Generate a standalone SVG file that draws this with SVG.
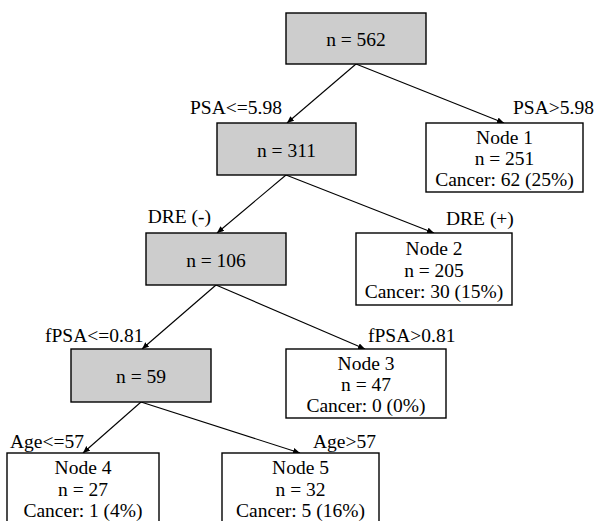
<svg xmlns="http://www.w3.org/2000/svg" width="594" height="521" viewBox="0 0 594 521">
<style>
text{font-family:'Liberation Serif','DejaVu Serif',serif;font-size:19.5px;fill:#000}
.c{text-anchor:middle}
.e{text-anchor:end}
.g{fill:#cdcdcd;stroke:#000;stroke-width:1.4}
.w{fill:#fff;stroke:#000;stroke-width:1.4}
.l{stroke:#000;stroke-width:1.1;fill:none;marker-end:url(#ah)}
</style>
<defs>
<marker id="ah" markerUnits="userSpaceOnUse" markerWidth="8" markerHeight="8" refX="7" refY="3" orient="auto">
<path d="M0,0 L7,3 L0,6 Z" fill="#000"/>
</marker>
</defs>
<rect width="594" height="521" fill="#fff"/>
<g id="connectors">
<line class="l" x1="356" y1="64" x2="287" y2="123"/>
<line class="l" x1="356" y1="64" x2="504" y2="123"/>
<line class="l" x1="286" y1="175" x2="217" y2="233"/>
<line class="l" x1="286" y1="175" x2="434" y2="233"/>
<line class="l" x1="216" y1="285" x2="142" y2="349"/>
<line class="l" x1="216" y1="285" x2="365" y2="349"/>
<line class="l" x1="141" y1="402" x2="83" y2="453"/>
<line class="l" x1="141" y1="402" x2="300" y2="453"/>
</g>
<g id="labels" font-family="Liberation Serif, serif">
<text x="190" y="114">PSA&lt;=5.98</text>
<text x="513" y="114">PSA&gt;5.98</text>
<text class="e" x="211" y="223">DRE (-)</text>
<text x="446" y="225">DRE (+)</text>
<text x="45" y="342">fPSA&lt;=0.81</text>
<text x="368" y="342">fPSA&gt;0.81</text>
<text x="10" y="448">Age&lt;=57</text>
<text x="313" y="448">Age&gt;57</text>
</g>
<g id="root">
<rect class="g" x="286" y="13" width="140" height="51"/>
<text class="c" x="356" y="46">n = 562</text>
</g>
<g id="n311">
<rect class="g" x="217" y="123" width="139" height="52"/>
<text class="c" x="286.5" y="157">n = 311</text>
</g>
<g id="node1">
<rect class="w" x="426" y="123" width="157" height="69"/>
<text class="c" x="504.5" y="144">Node 1</text>
<text class="c" x="504.5" y="165">n = 251</text>
<text class="c" x="504.5" y="186">Cancer: 62 (25%)</text>
</g>
<g id="n106">
<rect class="g" x="146" y="233" width="140" height="52"/>
<text class="c" x="216" y="267">n = 106</text>
</g>
<g id="node2">
<rect class="w" x="356" y="233" width="156" height="72"/>
<text class="c" x="434" y="255">Node 2</text>
<text class="c" x="434" y="277">n = 205</text>
<text class="c" x="434" y="298">Cancer: 30 (15%)</text>
</g>
<g id="n59">
<rect class="g" x="71" y="349" width="140" height="53"/>
<text class="c" x="141" y="383">n = 59</text>
</g>
<g id="node3">
<rect class="w" x="286" y="349" width="160" height="69"/>
<text class="c" x="366" y="370">Node 3</text>
<text class="c" x="366" y="391">n = 47</text>
<text class="c" x="366" y="412">Cancer: 0 (0%)</text>
</g>
<g id="node4">
<rect class="w" x="7" y="453" width="152" height="80"/>
<text class="c" x="83" y="474">Node 4</text>
<text class="c" x="83" y="496">n = 27</text>
<text class="c" x="83" y="517">Cancer: 1 (4%)</text>
</g>
<g id="node5">
<rect class="w" x="222" y="453" width="157" height="80"/>
<text class="c" x="300.5" y="474">Node 5</text>
<text class="c" x="300.5" y="496">n = 32</text>
<text class="c" x="300.5" y="517">Cancer: 5 (16%)</text>
</g>
</svg>
